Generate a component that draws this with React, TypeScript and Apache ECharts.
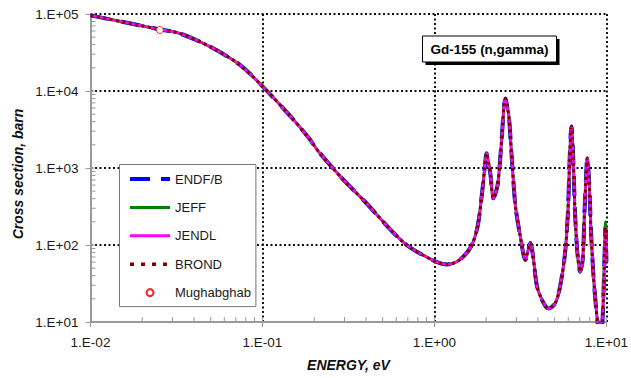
import React, { useEffect, useRef } from "react";
import * as echarts from "echarts";

// Energies (eV) shared by the evaluated data sets
const energy = [
  0.01, 0.0177, 0.0254, 0.033, 0.0492, 0.0736, 0.1, 0.143, 0.186, 0.212, 0.296, 0.386,
  0.671, 1.0, 1.19, 1.4, 1.63, 1.78, 1.9, 1.96, 2.01, 2.06, 2.12, 2.2, 2.32, 2.4, 2.48,
  2.54, 2.59, 2.64, 2.71, 2.83, 2.96, 3.16, 3.38, 3.47, 3.61, 3.75, 3.95, 4.32, 4.61,
  5.04, 5.38, 5.75, 5.97, 6.1, 6.2, 6.26, 6.33, 6.43, 6.57, 6.78, 7.03, 7.28, 7.45, 7.6,
  7.7, 7.74, 7.8, 7.96, 8.13, 8.39, 8.69, 9.0, 9.25, 9.45, 9.6, 9.75, 9.88, 9.94, 10.0,
];

// Cross section (barn) (ENDF/B, JENDL, BROND coincide)
const evaluated = [
  96000, 74000, 63000, 56000, 38000, 22000, 11500, 4900, 2450, 1630, 700, 384,
  105, 62, 56, 64, 95, 172, 518, 1000, 1550, 1200, 800, 405, 573, 1150, 3100,
  6500, 8000, 6500, 4700, 1150, 316, 128, 64, 79, 106, 70, 29, 17.5, 15,
  17.5, 29, 79, 260, 1150, 2800, 3450, 2600, 1150, 260, 79, 45, 64, 260, 700,
  1250, 1350, 1200, 573, 157, 43, 16, 8, 6, 9, 20, 70, 170, 130, 60,
];

// JEFF differs near 10 eV (last points)
const jeffTail = [9, 22, 80, 200, 150, 70];
const jeff = [...evaluated.slice(0, evaluated.length - jeffTail.length), ...jeffTail];

// Mughabghab thermal point
const mughabE = [0.0253];
const mughabXs = [62000];

// Axis tick values
const xTicks = [0.01, 0.02, 0.03, 0.04, 0.05, 0.06, 0.07, 0.08, 0.09, 0.1, 0.2, 0.3, 0.4, 0.5, 0.6, 0.7, 0.8, 0.9, 1, 2, 3, 4, 5, 6, 7, 8, 9, 10];
const yTicks = [10, 20, 30, 40, 50, 60, 70, 80, 90, 100, 200, 300, 400, 500, 600, 700, 800, 900, 1000, 2000, 3000, 4000, 5000, 6000, 7000, 8000, 9000, 10000, 20000, 30000, 40000, 50000, 60000, 70000, 80000, 90000, 100000];

const FONT = "'Liberation Sans', Arial, sans-serif";

const fmt = (v: number) => {
  const e = Math.round(Math.log10(v));
  const s = e < 0 ? "-" : "+";
  const a = Math.abs(e);
  return "1.E" + s + (a < 10 ? "0" + a : "" + a);
};

const noSymbol = { color: "rgba(0,0,0,0)", borderWidth: 0, opacity: 0 };

export default function App() {
  const ref = useRef<HTMLDivElement>(null);
  useEffect(() => {
    if (!ref.current) return;
    const chart = echarts.init(ref.current, undefined, { renderer: "svg" });
    const pairs = (ys: number[]) => energy.map((e, i) => [e, ys[i]]);
    const option: any = {
      animation: false,
      backgroundColor: "#fff",
      grid: { left: 90.5, right: 21, top: 14, bottom: 56, containLabel: false },
      xAxis: {
        type: "log",
        logBase: 10,
        min: 0.01,
        max: 10,
        name: "ENERGY, eV",
        nameLocation: "middle",
        nameGap: 36,
        nameTextStyle: { fontFamily: FONT, fontSize: 14, fontWeight: "bold", fontStyle: "italic", color: "#111" },
        axisLine: { show: true, lineStyle: { color: "#9a9a9a", width: 2 } },
        axisTick: { show: true, length: 5, lineStyle: { color: "#9a9a9a", width: 1 } },
        axisLabel: { formatter: fmt, fontFamily: FONT, fontSize: 13.5, color: "#1a1a1a", margin: 13 },
        splitLine: { show: true, showMinLine: false, lineStyle: { color: "#111", type: [2, 2.5], width: 2 } },
        minorTick: { show: false },
      },
      yAxis: {
        type: "log",
        logBase: 10,
        min: 10,
        max: 100000,
        axisLine: { show: true, lineStyle: { color: "#9a9a9a", width: 2 } },
        axisTick: { show: true, length: 5, lineStyle: { color: "#9a9a9a", width: 1 } },
        axisLabel: { formatter: fmt, fontFamily: FONT, fontSize: 13.5, color: "#1a1a1a", margin: 12 },
        splitLine: { show: true, showMinLine: false, lineStyle: { color: "#111", type: [2, 2.5], width: 2 } },
      },
      legend: {
        orient: "vertical",
        left: 119.5,
        top: 164.5,
        data: [
          { name: "ENDF/B", itemStyle: noSymbol, lineStyle: { color: "#0000ff", width: 4, type: [20, 11] } },
          { name: "JEFF", itemStyle: noSymbol, lineStyle: { color: "#008000", width: 3 } },
          { name: "JENDL", itemStyle: noSymbol, lineStyle: { color: "#ff00ff", width: 3 } },
          { name: "BROND", itemStyle: noSymbol, lineStyle: { color: "#800000", width: 3.5, type: [4, 7] } },
          { name: "Mughabghab" },
        ],
        itemWidth: 40,
        itemHeight: 7,
        itemGap: 14.4,
        padding: [7.5, 5, 7, 8.5],
        backgroundColor: "#fff",
        borderColor: "#777",
        borderWidth: 1,
        borderRadius: 0,
        selectedMode: false,
        textStyle: { fontFamily: FONT, fontSize: 13, color: "#1a1a1a", lineHeight: 14 },
      },
      graphic: [
        {
          type: "text",
          x: 17.5,
          y: 174,
          rotation: Math.PI / 2,
          style: {
            text: "Cross section, barn",
            fontFamily: FONT,
            fontSize: 14,
            fontWeight: "bold",
            fontStyle: "italic",
            fill: "#111",
            align: "center",
            verticalAlign: "middle",
          },
          z: 10,
        },
        { type: "rect", shape: { x: 425.5, y: 39, width: 134, height: 26 }, style: { fill: "#000" }, z: 20 },
        { type: "rect", shape: { x: 422.5, y: 36, width: 134, height: 26 }, style: { fill: "#fff", stroke: "#000", lineWidth: 1 }, z: 21 },
        {
          type: "text",
          x: 489.5,
          y: 49.5,
          style: {
            text: "Gd-155 (n,gamma)",
            fontFamily: FONT,
            fontSize: 13.5,
            fontWeight: "bold",
            fill: "#000",
            align: "center",
            verticalAlign: "middle",
          },
          z: 22,
        },
      ],
      series: [
        {
          name: "ENDF/B",
          type: "line",
          data: pairs(evaluated),
          symbol: "none",
          smooth: 0.3,
          lineStyle: { color: "#0000ff", width: 4, type: [20, 11] },
          itemStyle: { color: "#0000ff" },
          z: 2,
        },
        {
          name: "JEFF",
          type: "line",
          data: pairs(jeff),
          symbol: "none",
          smooth: 0.3,
          lineStyle: { color: "#008000", width: 3 },
          itemStyle: { color: "#008000" },
          z: 3,
        },
        {
          name: "JENDL",
          type: "line",
          data: pairs(evaluated),
          symbol: "none",
          smooth: 0.3,
          lineStyle: { color: "#ff00ff", width: 2.5 },
          itemStyle: { color: "#ff00ff" },
          z: 4,
        },
        {
          name: "BROND",
          type: "line",
          data: pairs(evaluated),
          symbol: "none",
          smooth: 0.3,
          lineStyle: { color: "#800000", width: 3, type: [3, 3.5] },
          itemStyle: { color: "#800000" },
          z: 5,
        },
        {
          name: "Mughabghab",
          type: "scatter",
          data: mughabE.map((e, i) => [e, mughabXs[i]]),
          symbol: "circle",
          symbolSize: 7,
          itemStyle: { color: "#fff", borderColor: "#ff2020", borderWidth: 1, opacity: 1 },
          z: 6,
        },
        {
          name: "xticks",
          type: "custom",
          data: xTicks.map((v) => [v, 10]),
          renderItem: (params: any, api: any) => {
            const p = api.coord([api.value(0), api.value(1)]);
            return {
              type: "line",
              shape: { x1: p[0], y1: p[1] - 1, x2: p[0], y2: p[1] - 5 },
              style: { stroke: "#9a9a9a", lineWidth: 1 },
            };
          },
          silent: true,
          z: 1,
        },
        {
          name: "yticks",
          type: "custom",
          data: yTicks.map((v) => [0.01, v]),
          renderItem: (params: any, api: any) => {
            const p = api.coord([api.value(0), api.value(1)]);
            return {
              type: "line",
              shape: { x1: p[0] + 1, y1: p[1], x2: p[0] + 5, y2: p[1] },
              style: { stroke: "#9a9a9a", lineWidth: 1 },
            };
          },
          silent: true,
          z: 1,
        },
      ],
    };
    chart.setOption(option);
    return () => chart.dispose();
  }, []);
  return (
    <div
      ref={ref}
      style={{ position: "fixed", left: 0, top: 0, width: 631, height: 378 }}
    />
  );
}
